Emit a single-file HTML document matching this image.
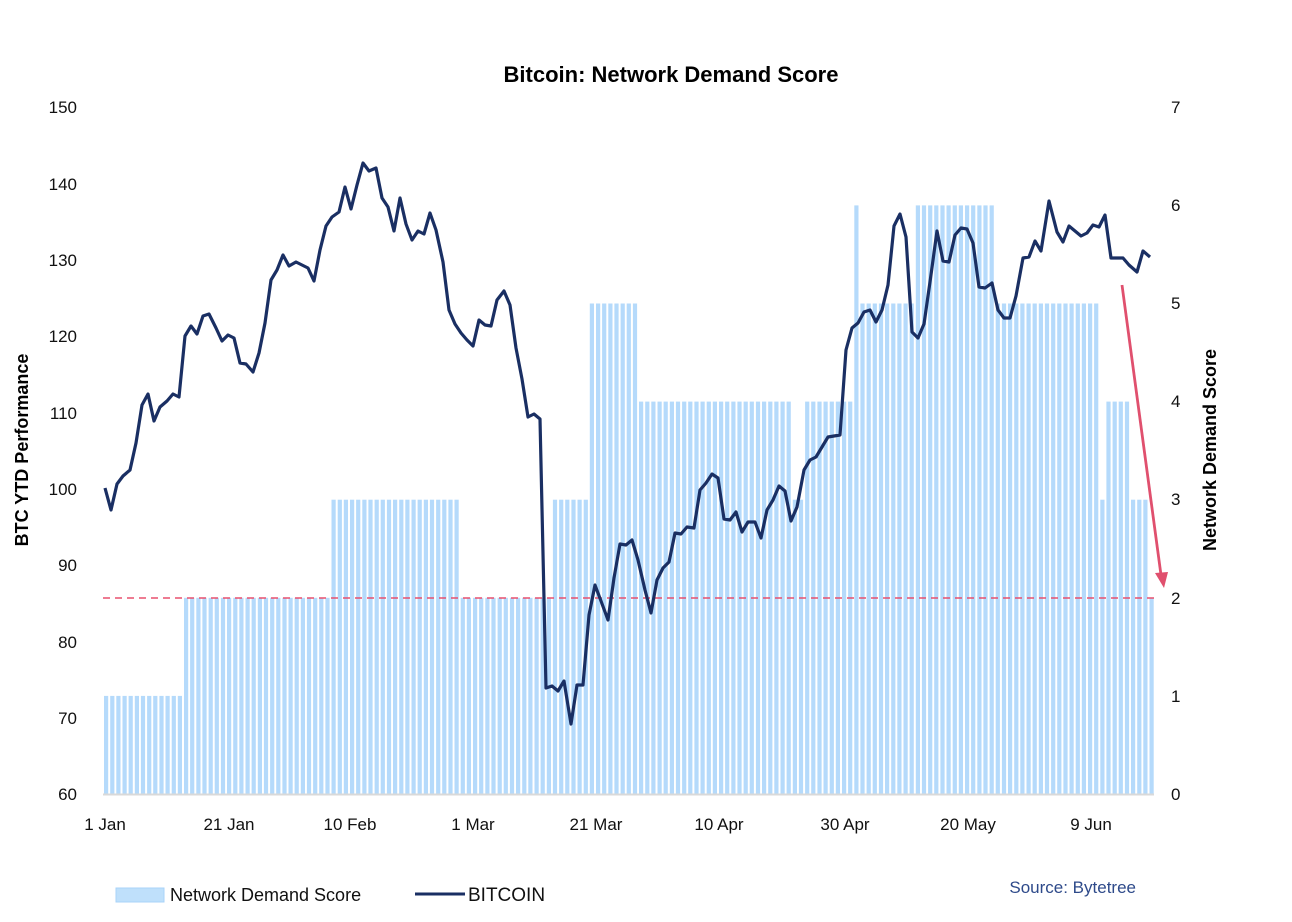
<!DOCTYPE html>
<html><head><meta charset="utf-8"><style>
html,body{margin:0;padding:0;background:#fff;}
svg{display:block;font-family:"Liberation Sans",sans-serif;}
</style></head><body>
<svg id="s" width="1292" height="922" viewBox="0 0 1292 922" xmlns="http://www.w3.org/2000/svg">
<rect width="1292" height="922" fill="#fff"/>
<text x="671" y="82" text-anchor="middle" font-size="22" font-weight="bold" fill="#000">Bitcoin: Network Demand Score</text>
<g id="bars"></g>
<line x1="103" y1="794.5" x2="1154" y2="794.5" stroke="#d9d9d9" stroke-width="2"/>
<line x1="103" y1="598" x2="1154" y2="598" stroke="#e8506e" stroke-width="1.6" stroke-dasharray="7,5"/>
<polyline id="btc" fill="none" stroke="#1a2f63" stroke-width="3.2" stroke-linejoin="round" points=""/>
<line x1="1122" y1="285" x2="1161" y2="575" stroke="#e0506e" stroke-width="2.8"/>
<polygon points="1155,573 1168,572 1164,588" fill="#e0506e"/>
<g font-size="17" fill="#111" text-anchor="end">
<text x="77" y="113">150</text><text x="77" y="190">140</text><text x="77" y="266">130</text><text x="77" y="342">120</text><text x="77" y="419">110</text><text x="77" y="495">100</text><text x="77" y="571">90</text><text x="77" y="648">80</text><text x="77" y="724">70</text><text x="77" y="800">60</text>
</g>
<g font-size="17" fill="#111" text-anchor="start">
<text x="1171" y="113">7</text><text x="1171" y="211">6</text><text x="1171" y="309">5</text><text x="1171" y="407">4</text><text x="1171" y="505">3</text><text x="1171" y="604">2</text><text x="1171" y="702">1</text><text x="1171" y="800">0</text>
</g>
<g font-size="17" fill="#111" text-anchor="middle">
<text x="105" y="830">1 Jan</text><text x="229" y="830">21 Jan</text><text x="350" y="830">10 Feb</text><text x="473" y="830">1 Mar</text><text x="596" y="830">21 Mar</text><text x="719" y="830">10 Apr</text><text x="845" y="830">30 Apr</text><text x="968" y="830">20 May</text><text x="1091" y="830">9 Jun</text>
</g>
<text transform="translate(28,450) rotate(-90)" text-anchor="middle" font-size="18" font-weight="bold" fill="#000">BTC YTD Performance</text>
<text transform="translate(1216,450) rotate(-90)" text-anchor="middle" font-size="18" font-weight="bold" fill="#000">Network Demand Score</text>
<rect x="116" y="888" width="48" height="14" fill="#bfe0fb" stroke="#a9d3f8"/>
<text x="170" y="901" font-size="18" fill="#111">Network Demand Score</text>
<line x1="415" y1="894" x2="465" y2="894" stroke="#1a2f63" stroke-width="3"/>
<text x="468" y="901" font-size="19" fill="#111">BITCOIN</text>
<text x="1136" y="893" text-anchor="end" font-size="17" fill="#2e4a8a">Source: Bytetree</text>
</svg>
<script>
var segs=[[0,183,1],[183,333,2],[333,457,3],[457,549,2],[549,587,3],[587,637,5],[637,791,4],[791,805,3],[805,854,4],[854,859,6],[859,916,5],[916,997,6],[997,1098,5],[1098,1103,3],[1103,1129,4],[1129,1148,3],[1148,1160,2]];
function lvl(x){for(var i=0;i<segs.length;i++){if(x>=segs[i][0]&&x<segs[i][1])return segs[i][2];}return 0;}
var g=document.getElementById('bars'),h='';
for(var x=104;x<1154;x+=6.15){var l=lvl(x+2);if(!l)continue;var y=794-l*98.1;h+='<rect x="'+x.toFixed(1)+'" y="'+y.toFixed(1)+'" width="4.2" height="'+(794-y).toFixed(1)+'" fill="#b5dafb"/>';}
g.innerHTML=h;
var p="105,488 111,510 117,484 123,476 130,470 136,443 142,405 148,394 154,421 160,407 167,401 173,394 179,397 185,336 191,326 197,334 203,316 209,314 216,328 222,341 228,335 234,338 240,363 246,364 253,372 259,353 265,323 271,280 277,270 283,255 289,266 296,262 302,265 308,268 314,281 320,250 326,226 332,217 339,212 345,187 351,209 357,185 363,163 369,171 376,168 382,198 388,207 394,231 400,198 406,224 412,240 418,231 424,234 430,213 436,230 443,262 449,310 455,324 461,333 467,340 473,346 479,320 485,325 491,326 497,300 504,291 510,305 516,348 522,379 528,417 534,414 540,419 546,688 552,686 558,691 564,681 571,724 577,685 583,685 589,615 595,585 601,601 608,620 614,578 620,544 626,545 632,540 638,560 645,590 651,613 657,580 663,568 669,562 675,533 681,534 687,527 694,528 700,490 706,483 712,474 718,478 724,519 730,520 736,512 742,532 748,522 755,522 761,538 767,510 773,500 779,486 785,491 791,521 797,507 804,470 810,460 816,457 822,447 828,437 834,436 840,435 846,350 852,328 858,323 864,312 870,310 876,322 882,310 888,285 894,226 900,214 906,237 912,332 918,338 924,324 930,282 937,231 943,261 949,262 955,235 961,228 967,229 973,243 979,287 985,288 992,283 998,310 1004,318 1010,318 1016,296 1023,258 1029,257 1035,241 1041,251 1049,201 1057,232 1063,242 1069,226 1075,231 1081,236 1087,233 1093,225 1099,227 1105,215 1111,258 1117,258 1123,258 1129,265 1137,272 1143,251 1150,257";
document.getElementById('btc').setAttribute('points',p);
</script>
</body></html>
